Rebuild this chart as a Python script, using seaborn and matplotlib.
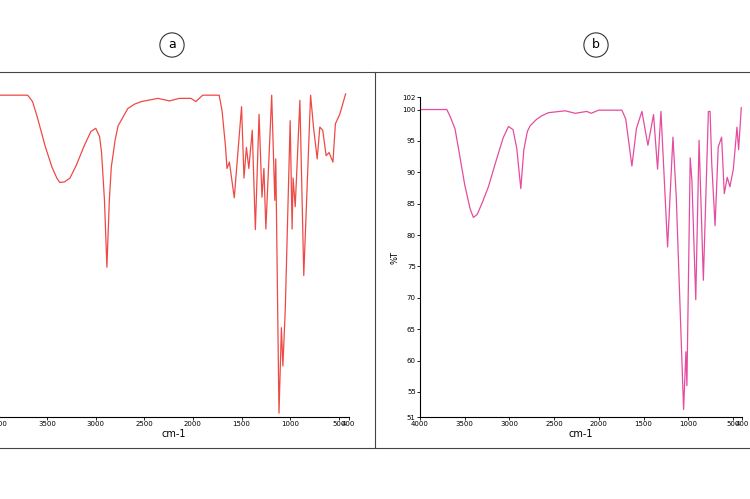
import matplotlib
matplotlib.use("Agg")
import matplotlib.pyplot as plt
import seaborn as sns
from matplotlib.lines import Line2D

wn_a = [4000, 3700, 3650, 3600, 3520, 3450, 3400, 3370, 3320, 3265, 3200, 3120, 3050, 3000, 2960, 2940, 2910, 2885,
        2860, 2840, 2800, 2770, 2740, 2670, 2600, 2530, 2360, 2240, 2140, 2020, 1970, 1900, 1730,
        1700, 1665, 1650, 1625, 1575, 1500, 1475, 1450, 1425, 1390, 1358, 1320, 1290, 1270, 1250, 1190, 1158, 1148, 1115, 1090,
        1075, 1050, 1000, 980, 970, 948, 900, 860, 790, 760, 722, 695, 665, 630, 600, 560, 535, 490, 465, 430]
t_a = [100.5, 100.5, 99.5, 97, 92.5, 89.2, 87.5, 86.8, 86.9, 87.5, 89.5, 92.5, 94.8, 95.3, 94, 91.5, 84, 73.5,
       84, 89.2, 93.5, 95.7, 96.5, 98.4, 99.1, 99.5, 100, 99.6, 100, 100, 99.5, 100.5, 100.5,
       98, 92.4, 89, 90, 84.4, 98.7, 87.5, 92.3, 89, 95, 79.4, 97.5, 84.5, 89, 79.5, 100.5, 84, 90.5, 50.6, 64,
       58, 67, 96.5, 79.5, 87.5, 83, 99.7, 72.2, 100.5, 95.5, 90.5, 95.5, 95, 91, 91.5, 90, 96, 97.5, 98.8, 100.7]

wn_b = [4000, 3700, 3660, 3608, 3560, 3500, 3440, 3403, 3360, 3300, 3235, 3150, 3070, 3011, 2960, 2918, 2873, 2840,
        2800, 2769, 2700, 2640, 2564, 2377, 2265, 2135, 2086, 2004, 1743, 1700, 1631, 1580, 1519, 1452,
        1389, 1344, 1306, 1232, 1172, 1135, 1053, 1027, 1016, 979, 960, 917, 880, 832, 776, 757, 738, 701, 666, 628,
        598, 565, 535, 497, 456, 438, 408]
t_b = [100, 100, 98.8, 96.9, 93, 88, 84.2, 82.8, 83.3, 85.3, 87.7, 91.8, 95.5, 97.3, 96.8, 93.8, 87.4, 93.5,
       96.5, 97.4, 98.4, 99, 99.5, 99.8, 99.4, 99.7, 99.4, 99.9, 99.9, 98.5, 91, 97, 99.7, 94.3,
       99.2, 90.5, 99.7, 78.1, 95.6, 86.1, 52.2, 61.4, 56, 92.3, 88.7, 69.7, 95.1, 72.8, 99.7, 99.7, 91.3, 81.5, 94, 95.6,
       86.6, 89.2, 87.7, 90.5, 97.2, 93.6, 100.3]

xticks = [4000, 3500, 3000, 2500, 2000, 1500, 1000, 500, 400]
xticklabels = ["4000", "3500", "3000", "2500", "2000", "1500", "1000", "500", "400"]
yticks_a = [50, 55.8, 61.6, 67.4, 73.2, 79, 84.8, 90.6, 96.4]
yticks_b = [51, 55, 60, 65, 70, 75, 80, 85, 90, 95, 100, 102]

W, H = 750, 499
fig = plt.figure(figsize=(7.5, 4.99), dpi=100)

def style(ax):
    ax.set_xlim(4000, 400)
    ax.set_xticks(xticks)
    ax.set_xticklabels(xticklabels, fontsize=5)
    ax.tick_params(length=2, width=0.6, labelsize=5, pad=1)
    for s in ["top", "right"]:
        ax.spines[s].set_visible(False)
    for s in ["left", "bottom"]:
        ax.spines[s].set_linewidth(0.8)
    ax.set_xlabel("cm-1", fontsize=7, labelpad=1)

axa = fig.add_axes([-0.002, (H - 417) / H, 350 / W, 325 / H])
sns.lineplot(x=wn_a, y=t_a, sort=False, ax=axa, color="#ee4a45", linewidth=0.9, estimator=None)
style(axa)
axa.set_ylim(50, 101)
axa.set_yticks(yticks_a)
axa.set_yticklabels([])
axa.set_ylabel("")

axb = fig.add_axes([420 / W, (H - 417) / H, 322 / W, 320 / H])
sns.lineplot(x=wn_b, y=t_b, sort=False, ax=axb, color="#e54c9f", linewidth=0.9, estimator=None)
style(axb)
axb.set_ylim(51, 102)
axb.set_yticks(yticks_b)
axb.set_yticklabels([str(v) for v in yticks_b], fontsize=5)
axb.set_ylabel("%T", fontsize=6, labelpad=2)

def fl(x0, y0, x1, y1):
    fig.add_artist(Line2D([x0 / W, x1 / W], [1 - y0 / H, 1 - y1 / H], color="#444444", linewidth=0.8))

fl(0, 72, 750, 72)
fl(0, 448, 750, 448)
fl(375, 72, 375, 448)

for lab, cx in [("a", 172), ("b", 596)]:
    fig.text(cx / W, 1 - 45 / H, lab, ha="center", va="center", fontsize=9,
             bbox=dict(boxstyle="circle,pad=0.45", fc="white", ec="#333333", lw=0.8))

fig.savefig("out.png", dpi=100)
